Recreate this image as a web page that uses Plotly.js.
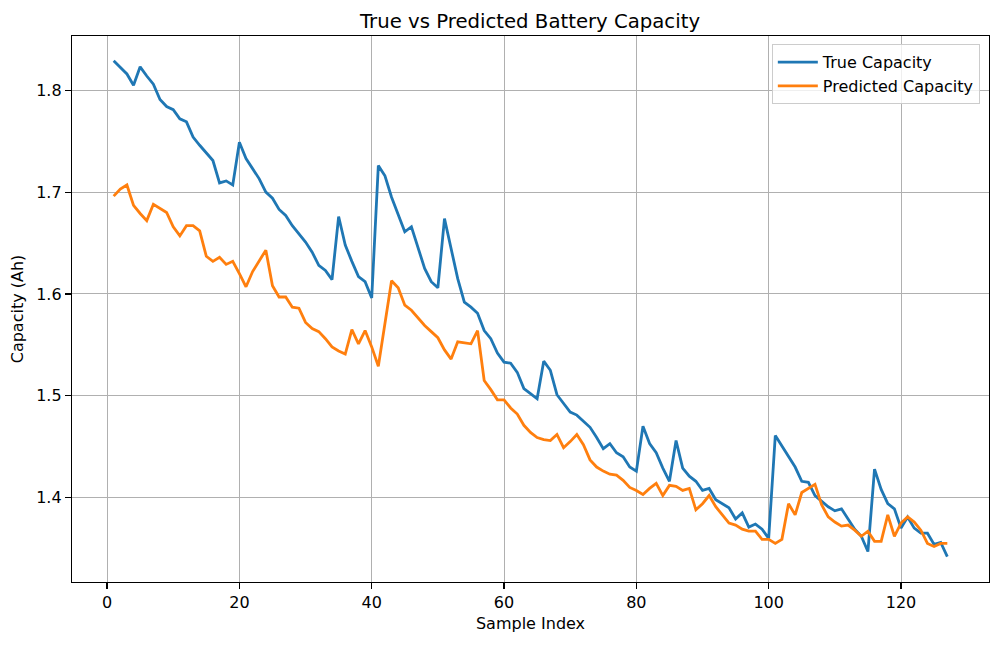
<!DOCTYPE html>
<html>
<head>
<meta charset="utf-8">
<script src="https://cdn.plot.ly/plotly-3.0.1.min.js"></script>
<style>
html,body{margin:0;padding:0;background:#fff;}
#chart{width:1000px;height:645px;}
</style>
</head>
<body>
<div id="chart"></div>
<script>
const trueCapacity = [
1.829,1.822,1.816,1.805,1.823,1.814,1.806,1.791,1.784,1.781,
1.772,1.769,1.754,1.746,1.738,1.731,1.709,1.711,1.707,1.749,
1.733,1.723,1.713,1.700,1.694,1.683,1.677,1.667,1.659,1.651,
1.641,1.628,1.623,1.614,1.676,1.648,1.632,1.617,1.612,1.596,
1.726,1.716,1.695,1.677,1.661,1.666,1.646,1.625,1.612,1.606,
1.674,1.644,1.615,1.592,1.587,1.581,1.564,1.556,1.542,1.533,
1.532,1.523,1.507,1.502,1.497,1.534,1.525,1.501,1.493,1.484,
1.481,1.475,1.469,1.459,1.448,1.453,1.444,1.440,1.430,1.426,
1.470,1.453,1.444,1.429,1.416,1.456,1.429,1.421,1.416,1.407,
1.409,1.398,1.394,1.390,1.379,1.385,1.371,1.374,1.369,1.360,
1.461,1.451,1.440,1.430,1.416,1.415,1.402,1.396,1.391,1.387,
1.389,1.379,1.369,1.362,1.347,1.428,1.408,1.394,1.389,1.370,
1.381,1.370,1.365,1.365,1.354,1.356,1.342
];
const predictedCapacity = [
1.696,1.703,1.707,1.687,1.679,1.672,1.688,1.684,1.680,1.666,
1.657,1.667,1.667,1.662,1.637,1.632,1.636,1.629,1.632,1.620,
1.607,1.622,1.633,1.643,1.608,1.597,1.597,1.587,1.586,1.572,
1.566,1.563,1.556,1.548,1.544,1.541,1.565,1.551,1.564,1.548,
1.529,1.571,1.613,1.606,1.589,1.584,1.576,1.569,1.563,1.557,
1.545,1.536,1.553,1.552,1.551,1.564,1.515,1.506,1.496,1.496,
1.488,1.482,1.471,1.464,1.459,1.457,1.456,1.462,1.449,1.455,
1.462,1.452,1.437,1.430,1.426,1.423,1.422,1.417,1.410,1.407,
1.403,1.409,1.414,1.402,1.412,1.411,1.407,1.409,1.388,1.394,
1.402,1.391,1.383,1.375,1.373,1.369,1.367,1.367,1.359,1.359,
1.355,1.359,1.394,1.383,1.405,1.409,1.413,1.393,1.381,1.376,
1.372,1.373,1.368,1.362,1.367,1.357,1.357,1.383,1.362,1.375,
1.381,1.376,1.368,1.355,1.352,1.355,1.355
];
const sampleIndex = trueCapacity.map((_, i) => i + 1);
const xTicks = [0, 20, 40, 60, 80, 100, 120];
const yTicks = [1.4, 1.5, 1.6, 1.7, 1.8];

const font = "DejaVu Sans, sans-serif";
const traces = [
  {x: sampleIndex, y: trueCapacity, type: 'scatter', mode: 'lines', name: 'True Capacity',
   line: {color: '#1f77b4', width: 2.8}},
  {x: sampleIndex, y: predictedCapacity, type: 'scatter', mode: 'lines', name: 'Predicted Capacity',
   line: {color: '#ff7f0e', width: 2.8}}
];
const axisCommon = {
  showline: true, linecolor: '#000', linewidth: 1.2, mirror: true,
  ticks: 'outside', ticklen: 6, tickwidth: 1.2, tickcolor: '#000',
  showgrid: true, gridcolor: '#b0b0b0', gridwidth: 1,
  zeroline: false, tickfont: {family: font, size: 16, color: '#000'}
};
const layout = {
  width: 1000, height: 645,
  margin: {l: 72, r: 11, t: 36, b: 63},
  paper_bgcolor: '#fff', plot_bgcolor: '#fff',
  font: {family: font, color: '#000'},
  title: {text: 'True vs Predicted Battery Capacity', font: {family: font, size: 19.7, color: '#000'},
          x: 0.53, xanchor: 'center', y: 0.968, yanchor: 'middle'},
  xaxis: Object.assign({}, axisCommon, {
    range: [-5.3, 133.3], tickvals: xTicks, ticktext: xTicks.map(String),
    title: {text: 'Sample Index', font: {family: font, size: 16, color: '#000'}, standoff: 6}
  }),
  yaxis: Object.assign({}, axisCommon, {
    range: [1.3171, 1.8533], tickvals: yTicks, ticktext: yTicks.map(v => v.toFixed(1)),
    title: {text: 'Capacity (Ah)', font: {family: font, size: 16, color: '#000'}, standoff: 8}
  }),
  showlegend: true,
  legend: {x: 0.99, xanchor: 'right', y: 0.985, yanchor: 'top',
           bgcolor: 'rgba(255,255,255,0.8)', bordercolor: '#cccccc', borderwidth: 1,
           font: {family: font, size: 16, color: '#000'}, tracegroupgap: 0,
           itemwidth: 40}
};
Plotly.newPlot('chart', traces, layout, {displayModeBar: false, staticPlot: true});
</script>
</body>
</html>
